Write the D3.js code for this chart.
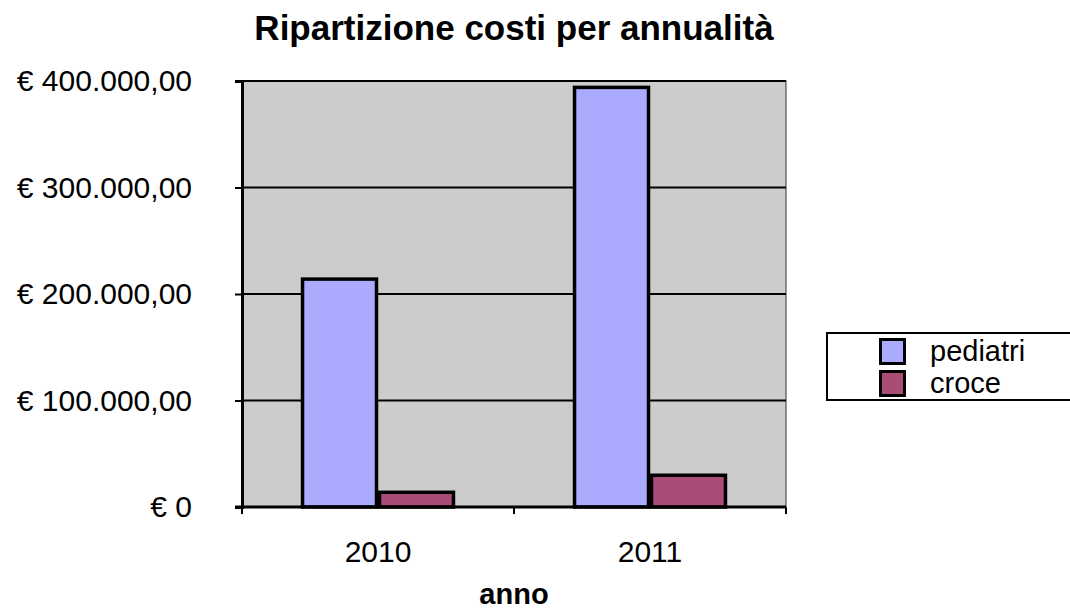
<!DOCTYPE html>
<html>
<head>
<meta charset="utf-8">
<script src="https://cdn.jsdelivr.net/npm/d3@7"></script>
<style>
  html, body { margin: 0; padding: 0; background: #ffffff; }
  svg { display: block; font-family: "Liberation Sans", Arial, sans-serif; }
</style>
</head>
<body>
<svg id="chart" width="1070" height="613"></svg>
<script>
// Categories (years) and the two cost series
const years = ["2010", "2011"];
const seriesNames = ["pediatri", "croce"];
const pediatri = [214000, 394000];
const croce = [13800, 29800];
const seriesColors = ["#AAAAFF", "#AA4C78"];

// Y axis ticks and their labels
const yTicks = [0, 100000, 200000, 300000, 400000];
const yTickLabels = ["€ 0", "€ 100.000,00", "€ 200.000,00", "€ 300.000,00", "€ 400.000,00"];

const titleText = "Ripartizione costi per annualità";
const xAxisTitle = "anno";

const svg = d3.select("#chart");

const plot = { left: 242, right: 786, top: 81, bottom: 507 };

const x = d3.scaleBand().domain(years).range([plot.left, plot.right]).padding(0);
const bw = x.bandwidth();
const xs = d3.scaleBand().domain(seriesNames).range([bw * 0.217, bw * 0.783]).padding(0);
const y = d3.scaleLinear().domain([0, 400000]).range([plot.bottom, plot.top]);

// Plot background
svg.append("rect")
  .attr("x", plot.left).attr("y", plot.top)
  .attr("width", plot.right - plot.left).attr("height", plot.bottom - plot.top)
  .attr("fill", "#CCCCCC")
  .attr("stroke", "#333").attr("stroke-width", 1);

// Horizontal gridlines
svg.append("g").selectAll("line")
  .data(yTicks.filter(d => d > 0))
  .join("line")
  .attr("x1", plot.left).attr("x2", plot.right)
  .attr("y1", d => y(d)).attr("y2", d => y(d))
  .attr("stroke", "#000").attr("stroke-width", 2);

// Bars
const rows = years.map((yr, i) => ({ year: yr, values: [pediatri[i], croce[i]] }));
const groups = svg.append("g").selectAll("g")
  .data(rows)
  .join("g")
  .attr("transform", d => `translate(${x(d.year)},0)`);

groups.selectAll("rect")
  .data(d => d.values.map((v, j) => ({ name: seriesNames[j], value: v, color: seriesColors[j] })))
  .join("rect")
  .attr("x", d => xs(d.name) + 1.5)
  .attr("width", xs.bandwidth() - 3)
  .attr("y", d => y(d.value))
  .attr("height", d => y(0) - y(d.value))
  .attr("fill", d => d.color)
  .attr("stroke", "#000")
  .attr("stroke-width", 3.5);

// Y axis
const yAxis = svg.append("g")
  .attr("transform", `translate(${plot.left},0)`)
  .call(d3.axisLeft(y).tickValues(yTicks).tickSize(7).tickPadding(43)
    .tickFormat((d, i) => yTickLabels[i]));
yAxis.select(".domain").attr("stroke", "#000").attr("stroke-width", 3);
yAxis.selectAll(".tick line").attr("stroke", "#000").attr("stroke-width", 2);
yAxis.selectAll(".tick text")
  .attr("font-size", 30).attr("fill", "#000")
  .attr("font-family", "'Liberation Sans', Arial, sans-serif");

// X axis with tick marks on band boundaries
const xAxisG = svg.append("g").attr("transform", `translate(0,${plot.bottom})`);
xAxisG.append("line")
  .attr("x1", plot.left - 7).attr("x2", plot.right)
  .attr("stroke", "#000").attr("stroke-width", 3);
xAxisG.selectAll("line.tk")
  .data([plot.left, x("2011"), plot.right])
  .join("line").attr("class", "tk")
  .attr("x1", d => d).attr("x2", d => d)
  .attr("y1", 0).attr("y2", 7)
  .attr("stroke", "#000").attr("stroke-width", 2);
xAxisG.selectAll("text")
  .data(years)
  .join("text")
  .attr("x", d => x(d) + bw / 2)
  .attr("y", 55)
  .attr("text-anchor", "middle")
  .attr("font-size", 30)
  .text(d => d);

// Titles
svg.append("text")
  .attr("x", 514).attr("y", 40)
  .attr("text-anchor", "middle")
  .attr("font-size", 35).attr("font-weight", "bold")
  .text(titleText);

svg.append("text")
  .attr("x", 514).attr("y", 604)
  .attr("text-anchor", "middle")
  .attr("font-size", 29).attr("font-weight", "bold")
  .text(xAxisTitle);

// Legend
const legend = svg.append("g");
legend.append("rect")
  .attr("x", 827).attr("y", 333)
  .attr("width", 260).attr("height", 67)
  .attr("fill", "#fff").attr("stroke", "#000").attr("stroke-width", 2);
const items = legend.selectAll("g.item")
  .data(seriesNames)
  .join("g").attr("class", "item")
  .attr("transform", (d, i) => `translate(0,${i * 32})`);
items.append("rect")
  .attr("x", 880.5).attr("y", 339.5)
  .attr("width", 24).attr("height", 24)
  .attr("fill", (d, i) => seriesColors[i])
  .attr("stroke", "#000").attr("stroke-width", 3);
items.append("text")
  .attr("x", 930).attr("y", 361)
  .attr("font-size", 29)
  .text(d => d);
</script>
</body>
</html>
